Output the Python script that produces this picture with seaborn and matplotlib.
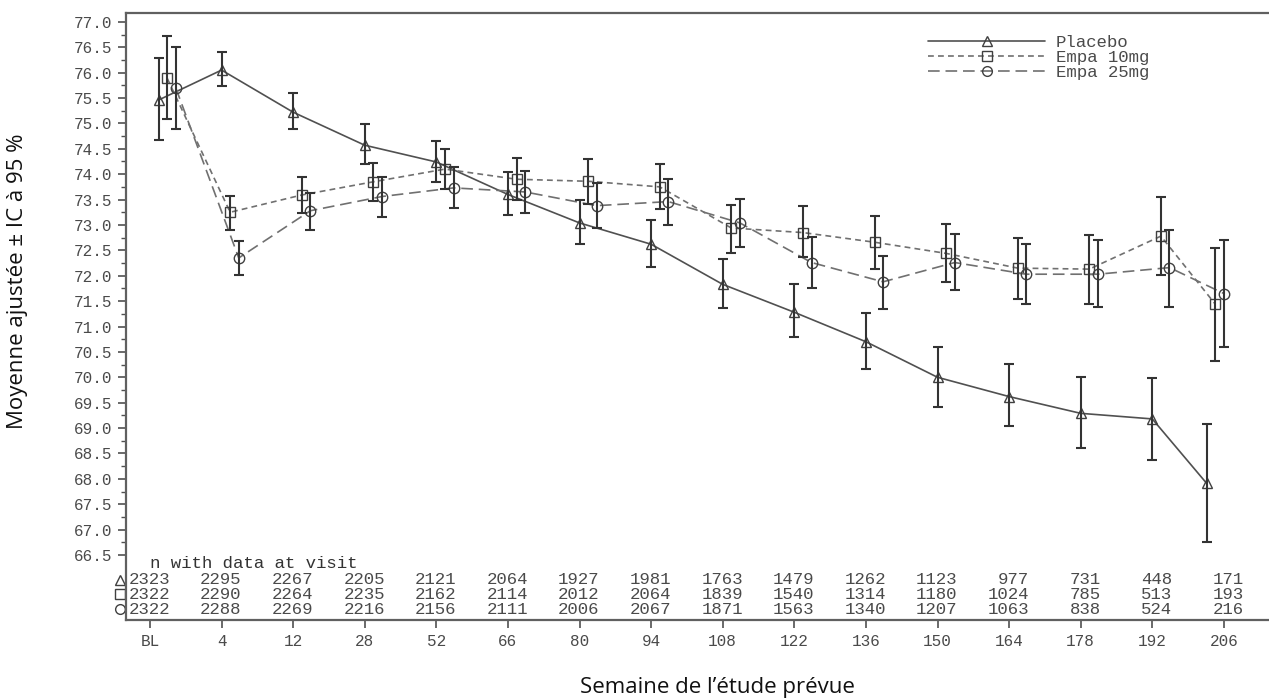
import numpy as np
import pandas as pd
import matplotlib
matplotlib.use("Agg")
import matplotlib.pyplot as plt
import matplotlib.transforms as mtransforms
from matplotlib.lines import Line2D
import seaborn as sns

# visits on the x axis (weeks)
visits = ["BL", "4", "12", "28", "52", "66", "80", "94", "108", "122", "136", "150", "164", "178", "192", "206"]
groups = ["Placebo", "Empa 10mg", "Empa 25mg"]

# adjusted means with 95% CI
placebo_mean = [75.46, 76.05, 75.22, 74.57, 74.24, 73.60, 73.04, 72.62, 71.83, 71.28, 70.70, 70.00, 69.62, 69.29, 69.18, 67.91]
placebo_lo = [74.67, 75.73, 74.88, 74.20, 73.85, 73.19, 72.62, 72.18, 71.36, 70.79, 70.16, 69.42, 69.04, 68.60, 68.37, 66.75]
placebo_hi = [76.28, 76.41, 75.60, 74.99, 74.66, 74.04, 73.50, 73.10, 72.33, 71.83, 71.27, 70.60, 70.26, 70.00, 69.98, 69.08]

empa10_mean = [75.89, 73.25, 73.59, 73.85, 74.10, 73.90, 73.86, 73.75, 72.94, 72.85, 72.66, 72.44, 72.15, 72.13, 72.78, 71.44]
empa10_lo = [75.08, 72.91, 73.23, 73.47, 73.70, 73.49, 73.41, 73.31, 72.45, 72.37, 72.13, 71.87, 71.54, 71.44, 72.01, 70.33]
empa10_hi = [76.72, 73.57, 73.95, 74.22, 74.49, 74.31, 74.29, 74.20, 73.39, 73.37, 73.18, 73.02, 72.75, 72.80, 73.56, 72.54]

empa25_mean = [75.70, 72.35, 73.28, 73.56, 73.73, 73.65, 73.38, 73.46, 73.04, 72.26, 71.88, 72.26, 72.03, 72.03, 72.16, 71.65]
empa25_lo = [74.88, 72.01, 72.91, 73.16, 73.33, 73.24, 72.94, 73.00, 72.57, 71.76, 71.34, 71.72, 71.44, 71.38, 71.39, 70.60]
empa25_hi = [76.50, 72.68, 73.62, 73.95, 74.15, 74.07, 73.83, 73.90, 73.51, 72.77, 72.39, 72.83, 72.62, 72.70, 72.90, 72.70]

# number of patients with data at each visit
n_placebo = [2323, 2295, 2267, 2205, 2121, 2064, 1927, 1981, 1763, 1479, 1262, 1123, 977, 731, 448, 171]
n_empa10 = [2322, 2290, 2264, 2235, 2162, 2114, 2012, 2064, 1839, 1540, 1314, 1180, 1024, 785, 513, 193]
n_empa25 = [2322, 2288, 2269, 2216, 2156, 2111, 2006, 2067, 1871, 1563, 1340, 1207, 1063, 838, 524, 216]

# plotting style
dodge = {"Placebo": 0.0, "Empa 10mg": 0.12, "Empa 25mg": 0.24}
edge_shift = np.zeros(len(visits))
edge_shift[0], edge_shift[-1] = 0.12, -0.24
markers = {"Placebo": "^", "Empa 10mg": "s", "Empa 25mg": "o"}
dashes = {"Placebo": "", "Empa 10mg": (3.5, 2.5), "Empa 25mg": (7, 3.5)}
line_colors = {"Placebo": "#505050", "Empa 10mg": "#707070", "Empa 25mg": "#707070"}
mono = "Liberation Mono"
txt_gray = "#4a4a4a"
tab_size = 12.5

frames = []
for g, m, lo, hi in zip(groups,
                        [placebo_mean, empa10_mean, empa25_mean],
                        [placebo_lo, empa10_lo, empa25_lo],
                        [placebo_hi, empa10_hi, empa25_hi]):
    idx = np.arange(len(visits))
    frames.append(pd.DataFrame({"group": g, "visit": visits, "x": idx + dodge[g] + edge_shift,
                                "mean": m, "lo": lo, "hi": hi}))
df = pd.concat(frames, ignore_index=True)

sns.set_style("ticks")
plt.rcParams["font.family"] = ["Liberation Mono", "DejaVu Sans"]

W, H = 1269, 700
fig = plt.figure(figsize=(W / 100, H / 100), dpi=100)
ax = fig.add_axes([126 / W, (H - 620) / H, (1274 - 126) / W, (620 - 12.7) / H])

sns.lineplot(data=df, x="x", y="mean", hue="group", style="group", palette=line_colors,
             dashes=dashes, markers=markers, markersize=7.5, mfc="none", mec="#404040", mew=1.0,
             lw=1.2, estimator=None, sort=False, legend=False, ax=ax)

for g in groups:
    d = df[df["group"] == g]
    ax.errorbar(d["x"], d["mean"], yerr=[d["mean"] - d["lo"], d["hi"] - d["mean"]], fmt="none",
                ecolor="#333333", elinewidth=1.5, capsize=3.6, capthick=1.5, zorder=3)

ax.set_xlim(-0.335, 15.70)
ax.set_ylim(65.22, 77.18)
ax.set_xticks(range(len(visits)))
ax.set_xticklabels(visits)
ax.set_yticks(np.arange(66.5, 77.01, 0.5))
ax.set_yticklabels([f"{v:.1f}" for v in np.arange(66.5, 77.01, 0.5)])
ax.set_yticks(np.arange(66.75, 77.0, 0.5), minor=True)
ax.tick_params(axis="both", which="major", length=6, width=1.2, color="#505050",
               labelsize=11.5, labelcolor=txt_gray)
ax.tick_params(axis="y", which="minor", length=3.5, width=1.0, color="#505050")
ax.tick_params(axis="x", pad=4)
ax.tick_params(axis="y", pad=4)
for lab in ax.get_xticklabels() + ax.get_yticklabels():
    lab.set_fontfamily(mono)
for s in ax.spines.values():
    s.set_color("#606060")
    s.set_linewidth(1.6)
ax.set_xlabel("")
ax.set_ylabel("")

# table of n with data at visit
trans = mtransforms.blended_transform_factory(ax.transData, ax.transAxes)
ax.text(0, 0.093, "n with data at visit", ha="left", va="center", transform=trans,
        fontfamily=mono, fontsize=tab_size, color="#333333")
row_y = [0.066, 0.042, 0.018]
for g, counts, ry in zip(groups, [n_placebo, n_empa10, n_empa25], row_y):
    for i, n in enumerate(counts):
        ax.text(i + 0.28, ry, str(n), ha="right", va="center", transform=trans,
                fontfamily=mono, fontsize=tab_size, color=txt_gray)
    ax.plot([-0.42], [ry], marker=markers[g], ms=7, mfc="none", mec="#404040", mew=1.0,
            ls="none", transform=trans, clip_on=False)

# legend
handles = [Line2D([], [], color=line_colors[g], lw=1.2, marker=markers[g], ms=7, mfc="none",
                  mec="#404040", mew=1.0,
                  dashes=dashes[g] if dashes[g] else (None, None)) for g in groups]
leg = ax.legend(handles, groups, loc="upper left", bbox_to_anchor=((928 - 126) / 1148, 1 - (35 - 12.7) / 607.3),
                frameon=False, prop={"family": mono, "size": tab_size}, handlelength=6.75,
                handletextpad=0.6, labelspacing=-0.02, borderpad=0, borderaxespad=0, numpoints=1)
for t in leg.get_texts():
    t.set_color(txt_gray)

fig.text(18 / W, 1 - 281 / H, "Moyenne ajustée ± IC à 95 %", rotation=90, ha="center", va="center",
         fontfamily="Open Sans", fontsize=16, color="#111111")
fig.text(717 / W, 1 - 687 / H, "Semaine de l\u2019étude prévue", ha="center", va="center",
         fontfamily="Open Sans", fontsize=16, color="#111111")

fig.savefig("out.png", dpi=100)
